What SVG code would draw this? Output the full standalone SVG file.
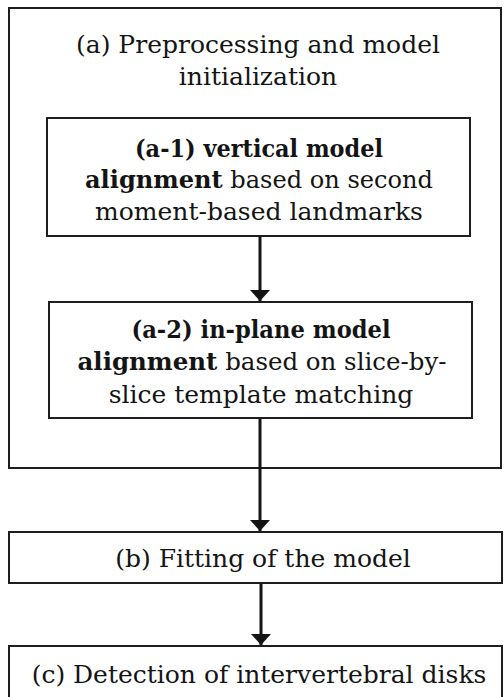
<svg xmlns="http://www.w3.org/2000/svg" width="504" height="697" viewBox="0 0 504 697">
  <style>
    .box { fill: #ffffff; stroke: #1e1e1e; stroke-width: 2; }
    .frame { fill: none; stroke: #1e1e1e; stroke-width: 2; }
    .lbl { font-family: "DejaVu Serif", "Liberation Serif", serif; font-size: 25px; fill: #141414; text-anchor: middle; }
    .b { font-weight: bold; }
    .conn { stroke: #141414; stroke-width: 3; fill: none; }
  </style>
  <defs>
    <marker id="head" markerUnits="userSpaceOnUse" markerWidth="12" markerHeight="22" refX="11" refY="11" orient="auto">
      <path d="M0,1 L11,11 L0,21 Z" fill="#141414"/>
    </marker>
  </defs>
  <rect width="504" height="697" fill="#ffffff"/>

  <!-- (a) outer stage frame -->
  <g id="stage-a">
    <rect class="frame" x="9" y="8" width="492" height="460"/>
    <text class="lbl" x="258" y="53">(a) Preprocessing and model</text>
    <text class="lbl" x="258" y="85">initialization</text>
  </g>

  <g id="step-a1">
    <rect class="box" x="47" y="118" width="423" height="118"/>
    <text class="lbl b" x="259" y="157" textLength="248" lengthAdjust="spacingAndGlyphs">(a-1) vertical model</text>
    <text class="lbl" x="259" y="188" textLength="348" lengthAdjust="spacingAndGlyphs"><tspan class="b">alignment</tspan> based on second</text>
    <text class="lbl" x="259" y="220">moment-based landmarks</text>
  </g>

  <g id="step-a2">
    <rect class="box" x="49" y="302" width="423" height="116"/>
    <text class="lbl b" x="261" y="338" textLength="259" lengthAdjust="spacingAndGlyphs">(a-2) in-plane model</text>
    <text class="lbl" x="262" y="370" textLength="369" lengthAdjust="spacingAndGlyphs"><tspan class="b">alignment</tspan> based on slice-by-</text>
    <text class="lbl" x="261" y="403">slice template matching</text>
  </g>

  <g id="step-b">
    <rect class="box" x="9" y="532" width="493" height="51"/>
    <text class="lbl" x="263" y="567">(b) Fitting of the model</text>
  </g>

  <g id="step-c">
    <rect class="box" x="9" y="646" width="493" height="60"/>
    <text class="lbl" x="259" y="683">(c) Detection of intervertebral disks</text>
  </g>

  <g id="connectors">
    <line class="conn" x1="260" y1="237" x2="260" y2="301" marker-end="url(#head)"/>
    <line class="conn" x1="260" y1="419" x2="260" y2="531" marker-end="url(#head)"/>
    <line class="conn" x1="261" y1="584" x2="261" y2="645" marker-end="url(#head)"/>
  </g>
</svg>
